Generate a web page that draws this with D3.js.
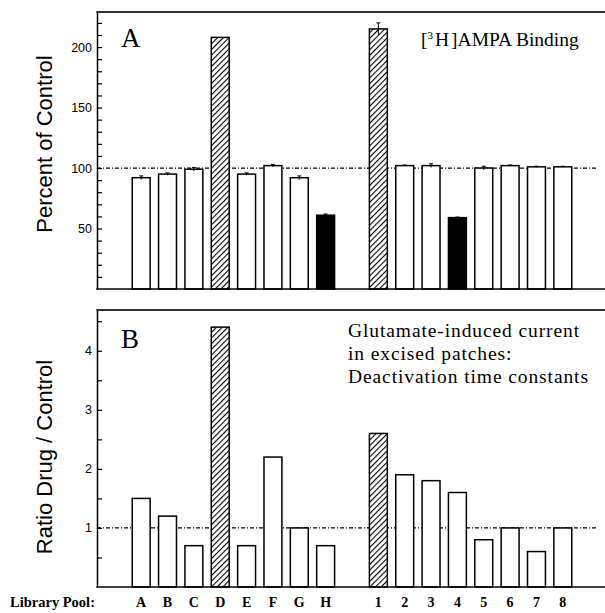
<!DOCTYPE html>
<html>
<head>
<meta charset="utf-8">
<script src="https://d3js.org/d3.v7.min.js"></script>
<style>
  body { margin: 0; background: #fff; }
  svg { display: block; }
</style>
</head>
<body>
<div id="chart"></div>
<script>
    // categories (library pools); a blank slot separates the letters from the numbers
    var pools = ["A", "B", "C", "D", "E", "F", "G", "H", "1", "2", "3", "4", "5", "6", "7", "8"];
    var slots = ["A", "B", "C", "D", "E", "F", "G", "H", "gap", "1", "2", "3", "4", "5", "6", "7", "8"];

    // panel A : [3H]AMPA binding, percent of control
    var bindingValues = [92, 95, 99, 208, 95, 102, 92, 61, 215, 102, 102, 59, 100, 102, 101, 101];
    var bindingErrors = [1.5, 1, 1.5, 0, 1, 1, 1.5, 1, 5, 0.5, 1.5, 0.5, 1.5, 0.5, 0.5, 0.5];
    var bindingFill = ["open", "open", "open", "hatch", "open", "open", "open", "solid",
                       "hatch", "open", "open", "solid", "open", "open", "open", "open"];
    var bindingTicks = d3.range(10, 221, 10);
    var bindingLabels = [50, 100, 150, 200];

    // panel B : deactivation time constants, ratio drug / control
    var ratioValues = [1.5, 1.2, 0.7, 4.4, 0.7, 2.2, 1.0, 0.7, 2.6, 1.9, 1.8, 1.6, 0.8, 1.0, 0.6, 1.0];
    var ratioFill = ["open", "open", "open", "hatch", "open", "open", "open", "open",
                     "hatch", "open", "open", "open", "open", "open", "open", "open"];
    var ratioTicks = d3.range(0.5, 4.51, 0.5);
    var ratioLabels = [1, 2, 3, 4];

    var W = 605, H = 613;
    var axisX = 97, rightX = 605;

    var svg = d3.select("#chart").append("svg")
        .attr("width", W)
        .attr("height", H);

    // hatch pattern
    var pat = svg.append("defs").append("pattern")
        .attr("id", "hatch")
        .attr("patternUnits", "userSpaceOnUse")
        .attr("width", 4)
        .attr("height", 4)
        .attr("patternTransform", "rotate(45)");
    pat.append("rect").attr("width", 4).attr("height", 4).attr("fill", "#fff");
    pat.append("line")
        .attr("x1", 0).attr("y1", 0).attr("x2", 0).attr("y2", 4)
        .attr("stroke", "#000").attr("stroke-width", 2.2);

    var x = d3.scaleBand()
        .domain(slots)
        .range([128, 576])
        .paddingInner(0.32)
        .paddingOuter(0.16);

    function fillOf(t) {
        if (t == "hatch") return "url(#hatch)";
        if (t == "solid") return "#000";
        return "#fff";
    }

    function drawPanel(opt) {
        var y = d3.scaleLinear()
            .domain([0, opt.max])
            .range([opt.bottom, opt.top]);

        var g = svg.append("g");

        // reference line
        g.append("line")
            .attr("x1", axisX).attr("x2", 597)
            .attr("y1", y(opt.ref)).attr("y2", y(opt.ref))
            .attr("stroke", "#000")
            .attr("stroke-width", 1.2)
            .attr("stroke-dasharray", "4,2,1,2");

        // bars
        g.selectAll(".bar")
            .data(opt.values)
            .enter()
            .append("rect")
            .attr("x", function (d, i) { return x(pools[i]); })
            .attr("y", function (d) { return y(d); })
            .attr("width", x.bandwidth())
            .attr("height", function (d) { return y(0) - y(d); })
            .attr("fill", function (d, i) { return fillOf(opt.fill[i]); })
            .attr("stroke", "#000")
            .attr("stroke-width", 1.5);

        // error bars
        if (opt.errors) {
            opt.values.forEach(function (v, i) {
                var e = opt.errors[i];
                if (!e) return;
                var cx = x(pools[i]) + x.bandwidth() / 2;
                g.append("line")
                    .attr("x1", cx).attr("x2", cx)
                    .attr("y1", y(v - e)).attr("y2", y(v + e))
                    .attr("stroke", "#000").attr("stroke-width", 1);
                g.append("line")
                    .attr("x1", cx - 2).attr("x2", cx + 2)
                    .attr("y1", y(v + e)).attr("y2", y(v + e))
                    .attr("stroke", "#000").attr("stroke-width", 1);
            });
        }

        // y axis, ticks pointing inward
        var ax = g.append("g")
            .attr("transform", "translate(" + axisX + ",0)")
            .call(d3.axisLeft(y)
                .tickValues(opt.ticks)
                .tickSizeInner(-5)
                .tickSizeOuter(0)
                .tickPadding(5)
                .tickFormat(function (d) {
                    return opt.labels.some(function (l) { return Math.abs(l - d) < 1e-6; }) ? d : "";
                }));
        ax.select(".domain").attr("stroke-width", 1.5);
        ax.selectAll(".tick line").attr("stroke-width", 1.2);
        ax.selectAll("text")
            .style("font-family", "'Liberation Sans', Arial, sans-serif")
            .style("font-size", "12.5px")
            .attr("fill", "#000");

        // frame: top and bottom lines
        g.append("line")
            .attr("x1", axisX - 0.75).attr("x2", rightX)
            .attr("y1", opt.top).attr("y2", opt.top)
            .attr("stroke", "#333").attr("stroke-width", 2.2);
        g.append("line")
            .attr("x1", axisX - 0.75).attr("x2", rightX)
            .attr("y1", opt.bottom).attr("y2", opt.bottom)
            .attr("stroke", "#000").attr("stroke-width", 1.5);

        // y label
        g.append("text")
            .attr("transform", "translate(52," + opt.labelY + ")rotate(-90)")
            .attr("text-anchor", "middle")
            .style("font-family", "'Liberation Sans', Arial, sans-serif")
            .style("font-size", "22px")
            .text(opt.ylabel);

        // panel letter
        g.append("text")
            .attr("x", 121)
            .attr("y", opt.top + opt.letterDy)
            .style("font-family", "'Liberation Serif', 'Times New Roman', serif")
            .style("font-size", "27px")
            .text(opt.letter);

        return { g: g, y: y };
    }

    var pA = drawPanel({
        top: 12, bottom: 289, max: 229, ref: 100,
        values: bindingValues, errors: bindingErrors, fill: bindingFill,
        ticks: bindingTicks, labels: bindingLabels,
        ylabel: "Percent of Control", labelY: 144,
        letter: "A", letterDy: 35
    });

    var pB = drawPanel({
        top: 310, bottom: 587, max: 4.69, ref: 1,
        values: ratioValues, errors: null, fill: ratioFill,
        ticks: ratioTicks, labels: ratioLabels,
        ylabel: "Ratio Drug / Control", labelY: 457,
        letter: "B", letterDy: 38
    });

    // annotation panel A
    var ann = svg.append("text")
        .attr("x", 421)
        .attr("y", 46)
        .style("font-family", "'Liberation Serif', 'Times New Roman', serif")
        .style("font-size", "19.5px");
    ann.append("tspan").text("[");
    ann.append("tspan").attr("dy", -7).style("font-size", "11px").text("3");
    ann.append("tspan").attr("dy", 7).attr("dx", 2).text("H");
    ann.append("tspan").attr("dx", 2).text("]AMPA Binding");

    // annotation panel B
    var annB = ["Glutamate-induced current", "in excised patches:", "Deactivation time constants"];
    svg.selectAll(".annB")
        .data(annB)
        .enter()
        .append("text")
        .attr("x", 348)
        .attr("y", function (d, i) { return 337 + i * 23; })
        .style("font-family", "'Liberation Serif', 'Times New Roman', serif")
        .style("font-size", "19.5px")
        .style("letter-spacing", "0.9px")
        .text(function (d) { return d; });

    // category labels
    var xa = svg.append("g")
        .attr("transform", "translate(0,587)")
        .call(d3.axisBottom(x)
            .tickValues(pools)
            .tickSize(0)
            .tickPadding(10));
    xa.select(".domain").remove();
    xa.selectAll("text")
        .style("font-family", "'Liberation Serif', 'Times New Roman', serif")
        .style("font-weight", "bold")
        .style("font-size", "14px")
        .attr("fill", "#000");

    svg.append("text")
        .attr("x", 10)
        .attr("y", 607)
        .style("font-family", "'Liberation Serif', 'Times New Roman', serif")
        .style("font-weight", "bold")
        .style("font-size", "14.5px")
        .text("Library Pool:");
</script>
</body>
</html>
